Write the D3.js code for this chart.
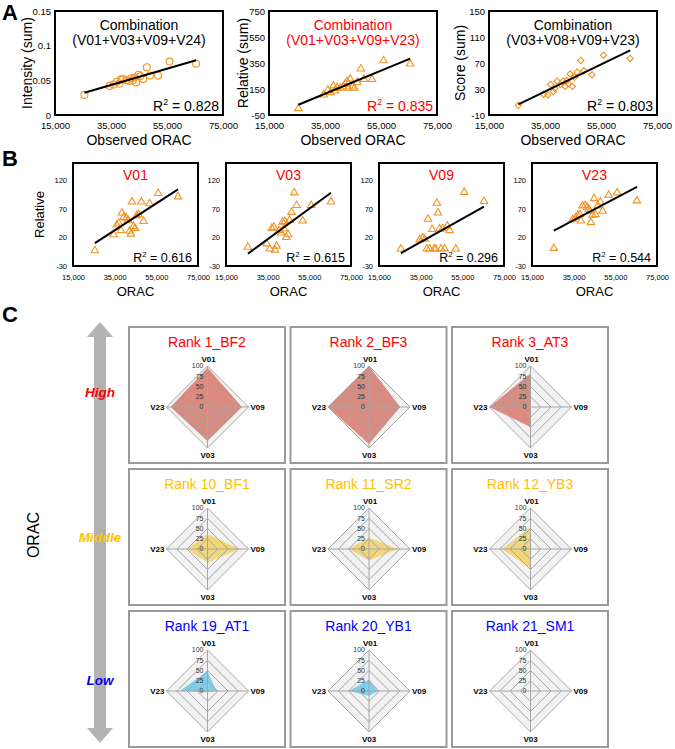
<!DOCTYPE html>
<html><head><meta charset="utf-8">
<script src="https://cdn.jsdelivr.net/npm/d3@7"></script>
<style>
body{margin:0;background:#fff}
svg{display:block;font-family:"Liberation Sans",Arial,Helvetica,sans-serif}
</style>
</head><body>
<svg id="c" width="675" height="749"></svg>
<script>
// ---------------- DATA ----------------
const orac = [25500, 34500, 36000, 37000, 38000, 38500, 39300, 40500, 41500, 42200, 42800, 43300, 44000, 44800, 45500, 46500, 47800, 48900, 51800, 55900, 65400];
const intensitySum = [0.029, 0.042, 0.044, 0.048, 0.045, 0.051, 0.052, 0.050, 0.049, 0.053, 0.050, 0.054, 0.047, 0.058, 0.056, 0.052, 0.069, 0.057, 0.057, 0.077, 0.074];
const relativeSum = [0, 105, 142, 123, 175, 136, 162, 157, 167, 188, 209, 157, 227, 167, 157, 201, 305, 224, 224, 369, 343];
const scoreSum = [5, 22, 21, 37, 26, 31, 42, 37, 42, 34, 43, 38, 53, 34, 48, 56, 74, 58, 52, 82, 77];
const relV01 = [-3, 25, 42, 45, 32, 63, 55, 54, 50, 31, 26, 82, 39, 36, 58, 60, 82, 48, 79, 97, 91];
const relV03 = [3, 9, 0, 36, 38, -2, 5, 32, 28, 47, 35, 48, 20, 25, 50, 64, 98, 76, 49, 76, 82];
const relV09 = [0, 16, 19, 17, 0, 52, 0, 34, 0, 0, 80, 63, 35, 0, 35, 0, 40, 32, 0, 99, 83];
const relV23 = [1, 51, 55, 59, 60, 49, 75, 76, 73, 69, 66, 46, 59, 88, 60, 75, 82, 66, 94, 98, 84];

const oracTicks = [15000, 35000, 55000, 75000];
const intensityTicks = [0, 0.05, 0.1, 0.15];
const relativeSumTicks = [-50, 150, 350, 550, 750];
const scoreTicks = [-10, 30, 70, 110, 150];
const relativeTicks = [-30, 20, 70, 120];

const comboTitles = ["(V01+V03+V09+V24)", "(V01+V03+V09+V23)", "(V03+V08+V09+V23)"];
const comboR2 = ["0.828", "0.835", "0.803"];
const singleNames = ["V01", "V03", "V09", "V23"];
const singleR2 = ["0.616", "0.615", "0.296", "0.544"];

const radarAxes = ["V01", "V09", "V03", "V23"];
const radarTicks = [0, 25, 50, 75, 100];
const rankNames = ["Rank 1_BF2", "Rank 2_BF3", "Rank 3_AT3", "Rank 10_BF1", "Rank 11_SR2", "Rank 12_YB3", "Rank 19_AT1", "Rank 20_YB1", "Rank 21_SM1"];
const rankLevel = [0, 0, 0, 1, 1, 1, 2, 2, 2];
const radarValues = [
  [96, 84, 83, 90],
  [100, 76, 90, 100],
  [82, 0, 49, 100],
  [36, 78, 33, 50],
  [28, 70, 28, 49],
  [54, 0, 47, 70],
  [48, 22, 3, 68],
  [28, 22, 12, 49],
  [0, 0, 0, 0]
];
const levelNames = ["High", "Middle", "Low"];

// ---------------- STYLE ----------------
const FONT = '"Liberation Sans", Arial, Helvetica, sans-serif';
const ORANGE = "#f39321";
const levelText = ["#ff0000", "#ffc000", "#0000ff"];
const levelFill = ["#da8a7e", "#f2d67c", "#7fd0ea"];

const svg = d3.select("#c");

function regression(xs, ys) {
  const mx = d3.mean(xs), my = d3.mean(ys);
  let sxy = 0, sxx = 0;
  xs.forEach((x, i) => { sxy += (x - mx) * (ys[i] - my); sxx += (x - mx) * (x - mx); });
  const m = sxy / sxx;
  return [m, my - m * mx];
}

function r2Text(g, x, y, size, val, color) {
  const t = g.append("text").attr("x", x).attr("y", y).attr("text-anchor", "end")
    .attr("font-size", size).attr("fill", color);
  t.append("tspan").text("R");
  t.append("tspan").attr("font-size", size * 0.62).attr("dy", -size * 0.38).text("2");
  t.append("tspan").attr("dy", size * 0.38).text(" = " + val);
}

function scatter(o) {
  const g = svg.append("g");
  const x = d3.scaleLinear().domain([15000, 75000]).range([o.x0, o.x0 + o.w]);
  const y = d3.scaleLinear().domain(o.domain).range([o.y0 + o.h, o.y0]);
  const xa = g.append("g").attr("transform", `translate(0,${o.y0 + o.h})`)
    .call(d3.axisBottom(x).tickValues(oracTicks).tickFormat(d3.format(",")).tickSize(0).tickPadding(o.xPad));
  xa.select(".domain").remove();
  xa.attr("font-family", FONT).attr("font-size", o.tickFont);
  xa.selectAll("text").attr("fill", "#000");
  if (o.showY) {
    const ya = g.append("g").attr("transform", `translate(${o.x0},0)`)
      .call(d3.axisLeft(y).tickValues(o.ticks).tickFormat(o.fmt || (d => String(d))).tickSize(0).tickPadding(o.yPad));
    ya.select(".domain").remove();
    ya.attr("font-family", FONT).attr("font-size", o.tickFont);
    ya.selectAll("text").attr("fill", "#000");
  }
  const [m, b] = regression(orac, o.values);
  const ext = d3.extent(orac);
  const sym = d3.symbol(o.symbol, o.size);
  g.selectAll("path.pt").data(d3.zip(orac, o.values)).join("path")
    .attr("class", "pt")
    .attr("transform", d => `translate(${x(d[0])},${y(d[1])})` + (o.rot ? " rotate(45)" : ""))
    .attr("d", sym).attr("fill", "none").attr("stroke", ORANGE).attr("stroke-width", 1.1);
  g.append("line").attr("x1", x(ext[0])).attr("y1", y(m * ext[0] + b))
    .attr("x2", x(ext[1])).attr("y2", y(m * ext[1] + b))
    .attr("stroke", "#000").attr("stroke-width", 2);
  g.append("rect").attr("x", o.x0).attr("y", o.y0).attr("width", o.w).attr("height", o.h)
    .attr("fill", "none").attr("stroke", "#000").attr("stroke-width", 2);
  const cx = o.x0 + o.w / 2;
  o.titles.forEach((t, i) => {
    g.append("text").attr("x", cx).attr("y", o.titleY + i * o.titleGap).attr("text-anchor", "middle")
      .attr("font-size", o.titleFont).attr("fill", o.titleColor).text(t);
  });
  r2Text(g, o.x0 + o.w - o.r2Dx, o.y0 + o.h - o.r2Dy, o.r2Font, o.r2, o.r2Color);
  g.append("text").attr("x", cx).attr("y", o.xLabelY).attr("text-anchor", "middle")
    .attr("font-size", o.labelFont).text(o.xLabel);
  if (o.yLabel) {
    g.append("text").attr("transform", `translate(${o.x0 - o.yLabelDx},${o.y0 + o.h / 2}) rotate(-90)`)
      .attr("text-anchor", "middle").attr("font-size", o.labelFont).text(o.yLabel);
  }
}

// ---------------- PANEL LETTERS ----------------
[["A", 20], ["B", 166], ["C", 322]].forEach(([t, y]) => {
  svg.append("text").attr("x", 2).attr("y", y).attr("font-size", 22).attr("font-weight", "bold").text(t);
});

// ---------------- PANEL A ----------------
const panelA = [
  { values: intensitySum, domain: [0, 0.15], ticks: intensityTicks, yLabel: "Intensity (sum)", symbol: d3.symbolCircle, size: 38, rot: false, x0: 55, color: "#000", yLabelDx: 23 },
  { values: relativeSum, domain: [-50, 750], ticks: relativeSumTicks, yLabel: "Relative (sum)", symbol: d3.symbolTriangle, size: 24, rot: false, x0: 269, color: "#ff0000", yLabelDx: 21 },
  { values: scoreSum, domain: [-10, 150], ticks: scoreTicks, yLabel: "Score (sum)", symbol: d3.symbolSquare, size: 20, rot: true, x0: 489, color: "#000", yLabelDx: 24 }
];
panelA.forEach((p, i) => {
  scatter(Object.assign({}, p, {
    y0: 11, w: 168, h: 104, showY: true, xPad: 7.5, yPad: 4, tickFont: 9.5,
    titles: ["Combination", comboTitles[i]], titleY: 30, titleGap: 15, titleFont: 14, titleColor: p.color,
    r2: comboR2[i], r2Color: p.color, r2Font: 14, r2Dx: 4, r2Dy: 4.5,
    xLabel: "Observed ORAC", xLabelY: 145, labelFont: 14
  }));
});

// ---------------- PANEL B ----------------
const panelBValues = [relV01, relV03, relV09, relV23];
const panelBX = [73, 226, 379, 532];
panelBValues.forEach((vals, i) => {
  scatter({
    values: vals, domain: [-30, 150], ticks: relativeTicks, symbol: d3.symbolTriangle, size: 24, rot: false,
    x0: panelBX[i], y0: 163, w: 125, h: 103, showY: true, xPad: 8.5, yPad: 6, tickFont: 7.5,
    titles: [singleNames[i]], titleY: 180, titleGap: 0, titleFont: 14, titleColor: "#ff0000",
    r2: singleR2[i], r2Color: "#000", r2Font: 12.5, r2Dx: 6, r2Dy: 4,
    xLabel: "ORAC", xLabelY: 296, labelFont: 13,
    yLabel: i === 0 ? "Relative" : null, yLabelDx: 29
  });
});

// ---------------- PANEL C ----------------
const arrowX = 100, aTop = 322, aBot = 743, headH = 15, headW = 13, shaftW = 6;
svg.append("path").attr("fill", "#b3b3b3").attr("d", d3.line()([
  [arrowX, aTop], [arrowX + headW, aTop + headH], [arrowX + shaftW, aTop + headH],
  [arrowX + shaftW, aBot - headH], [arrowX + headW, aBot - headH], [arrowX, aBot],
  [arrowX - headW, aBot - headH], [arrowX - shaftW, aBot - headH], [arrowX - shaftW, aTop + headH],
  [arrowX - headW, aTop + headH]
]) + "Z");
const levelY = [397, 542, 685];
levelNames.forEach((n, i) => {
  svg.append("text").attr("x", arrowX).attr("y", levelY[i]).attr("text-anchor", "middle")
    .attr("font-size", 13.5).attr("font-weight", "bold").attr("font-style", "italic")
    .attr("fill", levelText[i]).text(n);
});
svg.append("text").attr("transform", "translate(39,535) rotate(-90)").attr("text-anchor", "middle")
  .attr("font-size", 16).text("ORAC");

const rScale = d3.scaleLinear().domain([0, 100]).range([0, 41]);
const radial = d3.lineRadial().angle((d, k) => k * Math.PI / 2).radius(d => rScale(d)).curve(d3.curveLinearClosed);
const boxW = 156, boxH = 136;
rankNames.forEach((name, i) => {
  const col = i % 3, row = Math.floor(i / 3);
  const bx = 129 + col * 161.5, by = 327 + row * 142;
  const g = svg.append("g");
  g.append("rect").attr("x", bx).attr("y", by).attr("width", boxW).attr("height", boxH)
    .attr("fill", "#fff").attr("stroke", "#9a9a9a").attr("stroke-width", 2);
  g.append("text").attr("x", bx + boxW / 2).attr("y", by + 20).attr("text-anchor", "middle")
    .attr("font-size", 14).attr("fill", levelText[rankLevel[i]]).text(name);
  const cx = bx + boxW / 2 + 0.5, cy = by + 80;
  const rg = g.append("g").attr("transform", `translate(${cx},${cy})`);
  rg.append("path").attr("d", radial([100, 100, 100, 100])).attr("fill", "#f2f2f2");
  rg.append("path").attr("d", radial(radarValues[i])).attr("fill", levelFill[rankLevel[i]]);
  radarTicks.slice(1).forEach(t => {
    rg.append("path").attr("d", radial([t, t, t, t])).attr("fill", "none")
      .attr("stroke", "#a6a6a6").attr("stroke-width", 1);
  });
  radarAxes.forEach((a, k) => {
    const ang = k * Math.PI / 2;
    rg.append("line").attr("x1", 0).attr("y1", 0)
      .attr("x2", rScale(100) * Math.sin(ang)).attr("y2", -rScale(100) * Math.cos(ang))
      .attr("stroke", "#a6a6a6").attr("stroke-width", 1);
  });
  radarTicks.forEach(t => {
    rg.append("text").attr("x", -4).attr("y", -rScale(t)).attr("dy", "0.35em")
      .attr("text-anchor", "end").attr("font-size", 7).attr("fill", "#333").text(t);
  });
  const lab = [
    { x: 1, y: -rScale(100) - 4, anchor: "middle", dy: "0em" },
    { x: rScale(100) + 2, y: 0, anchor: "start", dy: "0.35em" },
    { x: 0, y: rScale(100) + 10, anchor: "middle", dy: "0em" },
    { x: -rScale(100) - 2, y: 0, anchor: "end", dy: "0.35em" }
  ];
  radarAxes.forEach((a, k) => {
    rg.append("text").attr("x", lab[k].x).attr("y", lab[k].y).attr("dy", lab[k].dy)
      .attr("text-anchor", lab[k].anchor).attr("font-size", 8).attr("font-weight", "bold")
      .attr("fill", "#000").text(a);
  });
});
</script>
</body></html>
